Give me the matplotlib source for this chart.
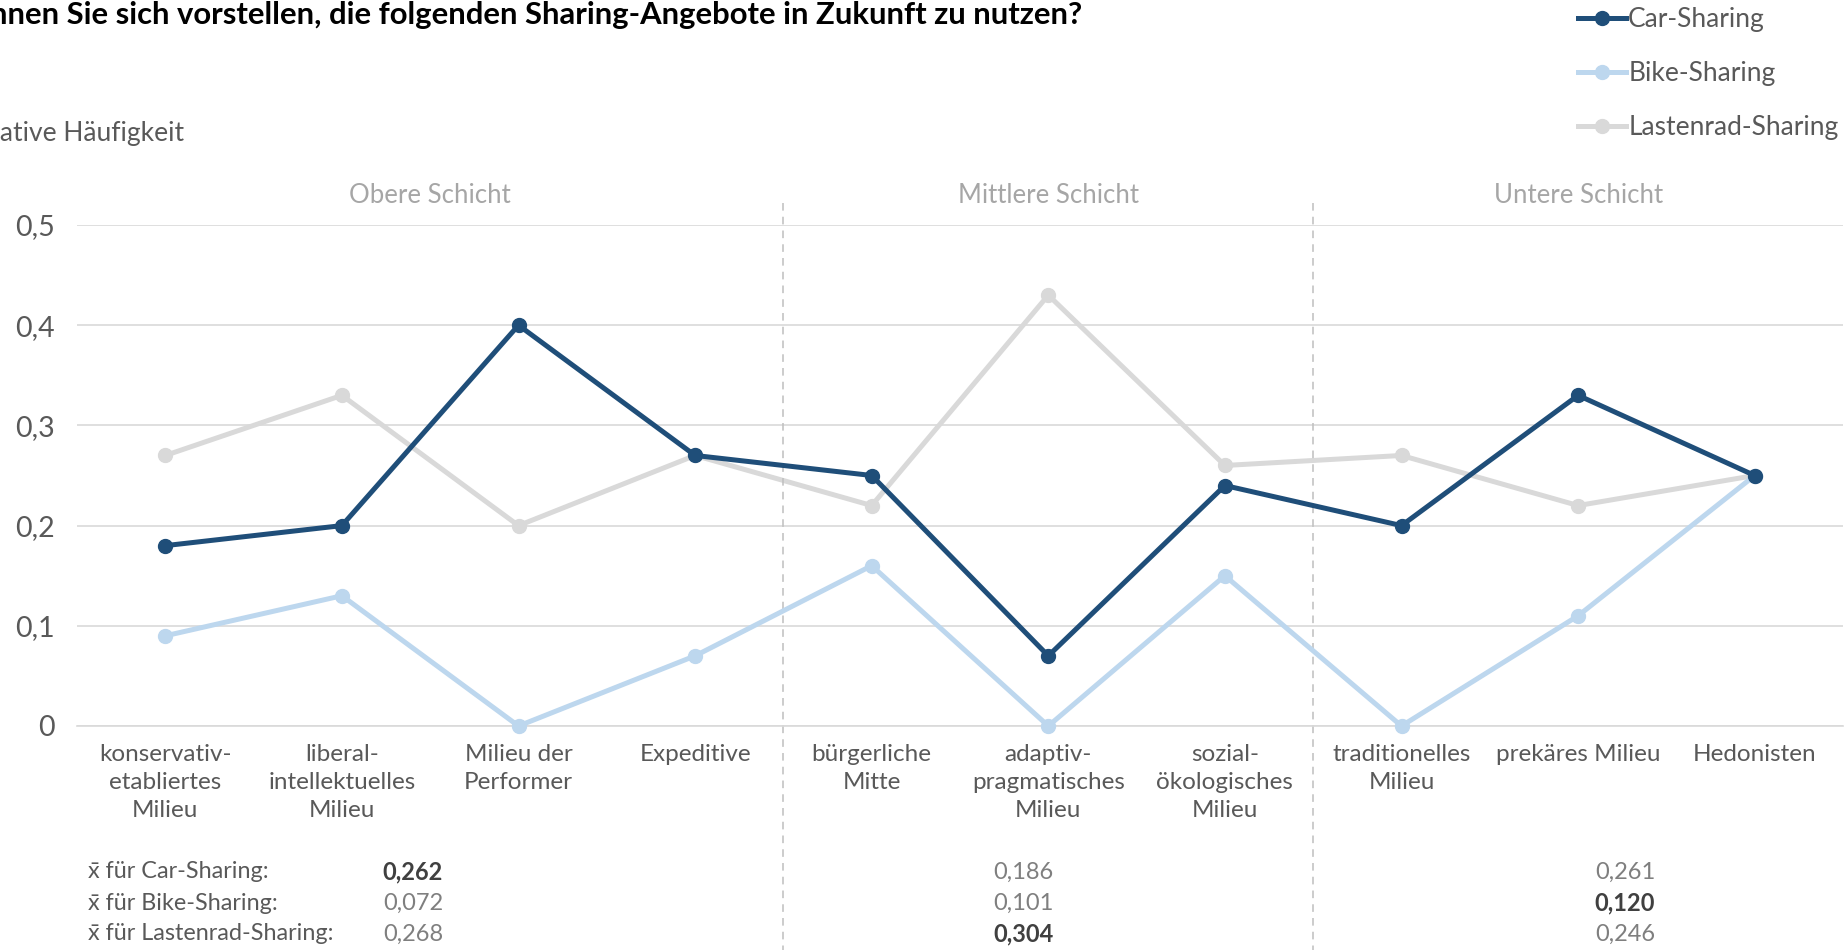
import matplotlib
matplotlib.use("Agg")
import matplotlib.pyplot as plt
from matplotlib.lines import Line2D

plt.rcParams['font.family'] = ['Lato', 'DejaVu Sans']

categories = ["konservativ-\netabliertes\nMilieu", "liberal-\nintellektuelles\nMilieu",
              "Milieu der\nPerformer", "Expeditive", "bürgerliche\nMitte",
              "adaptiv-\npragmatisches\nMilieu", "sozial-\nökologisches\nMilieu",
              "traditionelles\nMilieu", "prekäres Milieu", "Hedonisten"]
car = [0.18, 0.20, 0.40, 0.27, 0.25, 0.07, 0.24, 0.20, 0.33, 0.25]
bike = [0.09, 0.13, 0.00, 0.07, 0.16, 0.00, 0.15, 0.00, 0.11, 0.25]
lasten = [0.27, 0.33, 0.20, 0.27, 0.22, 0.43, 0.26, 0.27, 0.22, 0.25]
series_names = ["Car-Sharing", "Bike-Sharing", "Lastenrad-Sharing"]
groups = ["Obere Schicht", "Mittlere Schicht", "Untere Schicht"]
mean_labels = ["x\u0304 für Car-Sharing:", "x\u0304 für Bike-Sharing:", "x\u0304 für Lastenrad-Sharing:"]
means = [["0,262", "0,186", "0,261"],
         ["0,072", "0,101", "0,120"],
         ["0,268", "0,304", "0,246"]]
bold_cells = [(0, 0), (2, 1), (1, 2)]
yticks = [0, 0.1, 0.2, 0.3, 0.4, 0.5]
ytick_labels = ["0", "0,1", "0,2", "0,3", "0,4", "0,5"]

colors = ["#1F4E79", "#BDD7EE", "#D9D9D9"]
W, H = 1847, 950
fig = plt.figure(figsize=(W / 100, H / 100), dpi=100)
ax_left, ax_right, ax_bot, ax_top = 77, 1843, 726, 225
ax = fig.add_axes([ax_left / W, 1 - ax_bot / H, (ax_right - ax_left) / W, (ax_bot - ax_top) / H])
ax.set_xlim(-0.5, len(categories) - 0.5)
ax.set_ylim(0, 0.5)

x = list(range(len(categories)))
for vals, c, z in [(lasten, colors[2], 2), (bike, colors[1], 3), (car, colors[0], 4)]:
    ax.plot(x, vals, color=c, lw=3.6, marker='o', markersize=10, clip_on=False, zorder=z)

ax.set_yticks(yticks)
ax.set_yticklabels(ytick_labels)
ax.grid(axis='y', color='#D9D9D9', lw=1.2)
ax.set_axisbelow(True)
for s in ['top', 'right', 'left']:
    ax.spines[s].set_visible(False)
ax.spines['bottom'].set_color('#D9D9D9')
ax.spines['bottom'].set_linewidth(1.2)
ax.tick_params(axis='y', length=0, pad=16, labelsize=20.5, labelcolor='#595959')
ax.set_xticks(x)
ax.set_xticklabels(categories, linespacing=1.4)
ax.tick_params(axis='x', length=0, pad=13, labelsize=17.5, labelcolor='#595959')

# separators
for sx in [3.5, 6.5]:
    ax.plot([sx, sx], [1.044, -0.46], transform=ax.get_xaxis_transform(), color='#BFBFBF',
            lw=1.1, ls=(0, (5, 4)), clip_on=False)

# group labels
for gx, g in zip([1.5, 5.0, 8.0], groups):
    ax.text(gx, 1.058, g, transform=ax.get_xaxis_transform(), ha='center', va='center',
            fontsize=18.5, color='#A6A6A6')

# table of means
row_y = [872, 903, 934]
col_x = [413, 1023, 1625]
for r, lab in enumerate(mean_labels):
    fig.text(88 / W, 1 - row_y[r] / H, lab, ha='left', va='center', fontsize=16.8, color='#595959')
    for ci in range(3):
        b = (r, ci) in bold_cells
        fig.text(col_x[ci] / W, 1 - row_y[r] / H, means[r][ci], ha='center', va='center',
                 fontsize=17, color='#404040' if b else '#7F7F7F',
                 fontweight='bold' if b else 'normal')

# title and y label (cropped on the left as in the reference)
fig.text(1082 / W, 1 - 15 / H, "Können Sie sich vorstellen, die folgenden Sharing-Angebote in Zukunft zu nutzen?",
         ha='right', va='center', fontsize=22.3, fontweight='bold', color='black')
fig.text(184 / W, 1 - 134 / H, "Relative Häufigkeit", ha='right', va='center', fontsize=19, color='#595959')

# legend
handles = [Line2D([], [], color=colors[i], lw=3.6, marker='o', markersize=10) for i in range(3)]
fig.legend(handles, series_names, loc='upper left', bbox_to_anchor=(1578 / W, 1 - 7 / H),
           frameon=False, fontsize=19, labelcolor='#595959', handlelength=1.8, handletextpad=0.1,
           labelspacing=1.1, borderpad=0, borderaxespad=0)

fig.savefig("out.png", dpi=100)
